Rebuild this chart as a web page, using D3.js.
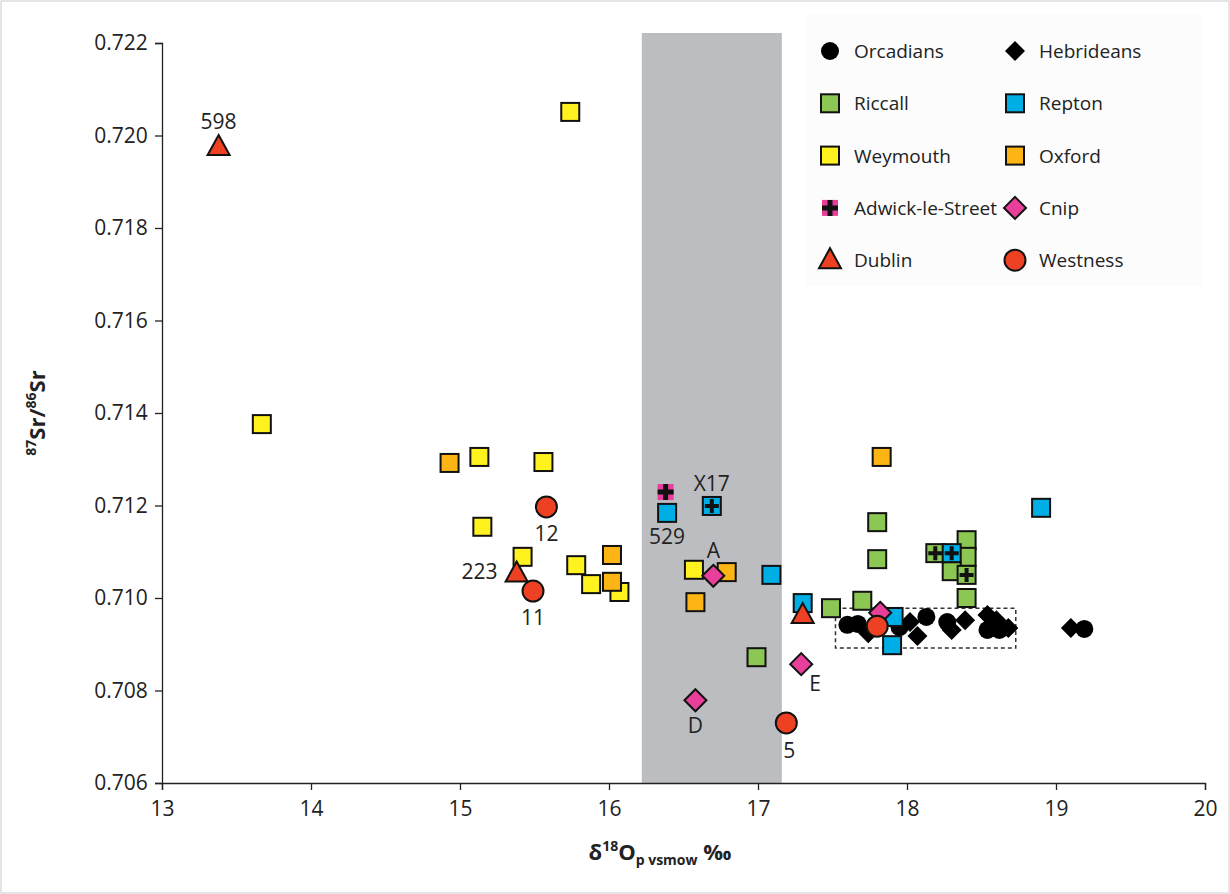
<!DOCTYPE html>
<html><head><meta charset="utf-8">
<script src="https://cdn.jsdelivr.net/npm/d3@7"></script>
<style>body{margin:0;background:#fff}svg{font-family:"Open Sans",Calibri,sans-serif}</style>
</head><body>
<svg id="c" width="1230" height="894"></svg>
<script>
// data [d18O, 87Sr/86Sr]
const orcadians = [[17.60,0.70942],[17.67,0.70944],[17.95,0.70937],[18.13,0.70959],[18.27,0.70948],[18.54,0.70931],[18.62,0.70931],[19.19,0.70933]];
const hebrideans = [[17.74,0.70924],[18.02,0.70948],[18.07,0.70918],[18.30,0.70931],[18.39,0.70952],[18.54,0.70963],[18.60,0.70952],[18.68,0.70935],[19.10,0.70935]];
const riccall = [[17.80,0.71164],[17.80,0.71084],[18.40,0.71125],[18.40,0.71089],[18.30,0.71058],[18.40,0.71000],[17.49,0.70978],[17.70,0.70994],[16.99,0.70872]];
const riccallCross = [[18.19,0.71097],[18.40,0.71050]];
const repton = [[16.39,0.71184],[17.09,0.71050],[17.30,0.70989],[17.91,0.70959],[17.90,0.70898],[18.90,0.71195]];
const reptonCross = [[16.69,0.71199],[18.30,0.71097]];
const weymouth = [[15.74,0.72051],[13.67,0.71376],[15.13,0.71305],[15.56,0.71294],[15.15,0.71154],[15.42,0.71089],[15.78,0.71071],[15.88,0.71030],[16.07,0.71013],[16.57,0.71061]];
const oxford = [[14.93,0.71292],[16.02,0.71093],[16.02,0.71035],[16.79,0.71056],[16.58,0.70991],[17.83,0.71305]];
const adwick = [[16.38,0.71229]];
const cnip = [[16.70,0.71048],[17.29,0.70857],[16.58,0.70779],[17.82,0.70968]];
const dublin = [[13.38,0.71975],[15.38,0.71053],[17.30,0.70963]];
const westness = [[15.58,0.71197],[15.49,0.71015],[17.19,0.70730],[17.80,0.70939]];
// label, point x, point y, dx, dy (baseline)
const labels = [["598",13.38,0.71975,0,-18],["223",15.38,0.71053,-37,6],["11",15.49,0.71015,0,34],["12",15.58,0.71197,0,34],["529",16.39,0.71184,0,31],["X17",16.69,0.71199,0,-15],["A",16.70,0.71048,0,-18],["E",17.29,0.70857,14,27],["D",16.58,0.70779,0,33],["5",17.19,0.70730,3,35]];
const xTicks = [13,14,15,16,17,18,19,20];
const yTicks = [0.706,0.708,0.710,0.712,0.714,0.716,0.718,0.720,0.722];
const band = [16.22,17.16];
const box = [[17.52,0.70892],[18.73,0.70978]];

const svg = d3.select("#c");
const x = d3.scaleLinear().domain([13,20]).range([162,1205]);
const y = d3.scaleLinear().domain([0.706,0.722]).range([783,43]);

svg.append("rect").attr("x",1).attr("y",1).attr("width",1228).attr("height",892).attr("fill","none").attr("stroke","#ccc");
svg.append("rect").attr("x",806).attr("y",14).attr("width",396).attr("height",272).attr("fill","#fcfcfc");
svg.append("rect").attr("x",x(band[0])).attr("y",33).attr("width",x(band[1])-x(band[0])).attr("height",783-33).attr("fill","#bcbdc0");

const xa = svg.append("g").attr("transform","translate(0,783)").call(d3.axisBottom(x).tickValues(xTicks).tickSize(7).tickFormat(d3.format("d")));
const ya = svg.append("g").attr("transform","translate(162,0)").call(d3.axisLeft(y).tickValues(yTicks).tickSize(7).tickFormat(d3.format(".3f")));
[xa,ya].forEach(a=>{a.selectAll("path,line").attr("stroke","#222").attr("stroke-width",1.3);a.selectAll("text").attr("font-size",21).attr("fill","#222").attr("font-family","Open Sans, sans-serif");});
xa.selectAll("text").attr("dy","1.1em");
ya.selectAll("text").attr("dx","-0.2em");

svg.append("rect").attr("x",x(box[0][0])).attr("y",y(box[1][1])).attr("width",x(box[1][0])-x(box[0][0])).attr("height",y(box[0][1])-y(box[1][1]))
  .attr("fill","none").attr("stroke","#333").attr("stroke-width",1.5).attr("stroke-dasharray","4,3");

function mark(g,type,fill,cx,cy){
  const s = g.append("g").attr("transform",`translate(${cx},${cy})`);
  const st = e=>e.attr("fill",fill).attr("stroke","#111").attr("stroke-width",2);
  if(type==="sq"||type==="sqx"){ st(s.append("rect").attr("x",-9).attr("y",-9).attr("width",18).attr("height",18));
    if(type==="sqx") s.append("path").attr("d","M-2,-7h4v5h5v4h-5v5h-4v-5h-5v-4h5z").attr("fill","#111"); }
  else if(type==="ci") st(s.append("circle").attr("r",10.5));
  else if(type==="bci") s.append("circle").attr("r",9).attr("fill","#000");
  else if(type==="bdi") s.append("path").attr("d","M0,-10L10,0L0,10L-10,0Z").attr("fill","#000");
  else if(type==="di") st(s.append("path").attr("d","M0,-11L11,0L0,11L-11,0Z"));
  else if(type==="tr") st(s.append("path").attr("d","M0,-12L11,8L-11,8Z"));
  else if(type==="adw"){ s.append("rect").attr("x",-8).attr("y",-8).attr("width",16).attr("height",16).attr("fill","#e83e9a");
    s.append("path").attr("d","M-2.5,-8h5v5.5h5.5v5h-5.5v5.5h-5v-5.5h-5.5v-5h5.5z").attr("fill","#111"); }
}
const G="#8cc653",B="#00aee6",Y="#fff21f",O="#fdb515",P="#e8409a",R="#ee4123";
const series = [[orcadians,"bci","#000"],[hebrideans,"bdi","#000"],[weymouth,"sq",Y],[oxford,"sq",O],[riccall,"sq",G],[riccallCross,"sqx",G],
  [repton,"sq",B],[reptonCross,"sqx",B],[adwick,"adw",P],[cnip,"di",P],[dublin,"tr",R],[westness,"ci",R]];
const pg = svg.append("g");
series.forEach(([d,t,f])=>d.forEach(p=>mark(pg,t,f,x(p[0]),y(p[1]))));

svg.append("g").selectAll("text").data(labels).join("text")
  .attr("x",d=>x(d[1])+d[3]).attr("y",d=>y(d[2])+d[4]).attr("text-anchor","middle").attr("font-size",21).attr("fill","#222").text(d=>d[0]);

// legend
const legend = [["Orcadians","bci","#000"],["Hebrideans","bdi","#000"],["Riccall","sq",G],["Repton","sq",B],["Weymouth","sq",Y],["Oxford","sq",O],
  ["Adwick-le-Street","adw",P],["Cnip","di",P],["Dublin","tr",R],["Westness","ci",R]];
const lg = svg.append("g");
legend.forEach((l,i)=>{const cx = i%2 ? 1015 : 830, cy = 51 + Math.floor(i/2)*52.3;
  mark(lg,l[1],l[2],cx,cy);
  lg.append("text").attr("x",cx+24).attr("y",cy+7).attr("font-size",19).attr("fill","#222").text(l[0]);});

// axis titles
const xt = svg.append("text").attr("x",660).attr("y",860).attr("text-anchor","middle").attr("font-size",22).attr("font-weight","bold").attr("fill","#222");
xt.append("tspan").text("δ");xt.append("tspan").attr("font-size",14).attr("dy",-9).text("18");
xt.append("tspan").attr("dy",9).text("O");xt.append("tspan").attr("font-size",14).attr("dy",5).text("p vsmow");
xt.append("tspan").attr("dy",-5).text(" ‰");
const yt = svg.append("text").attr("transform","translate(45,413) rotate(-90)").attr("text-anchor","middle").attr("font-size",22).attr("font-weight","bold").attr("fill","#222");
yt.append("tspan").attr("font-size",14).attr("dy",-9).text("87");yt.append("tspan").attr("dy",9).text("Sr/");
yt.append("tspan").attr("font-size",14).attr("dy",-9).text("86");yt.append("tspan").attr("dy",9).text("Sr");
</script>
</body></html>
